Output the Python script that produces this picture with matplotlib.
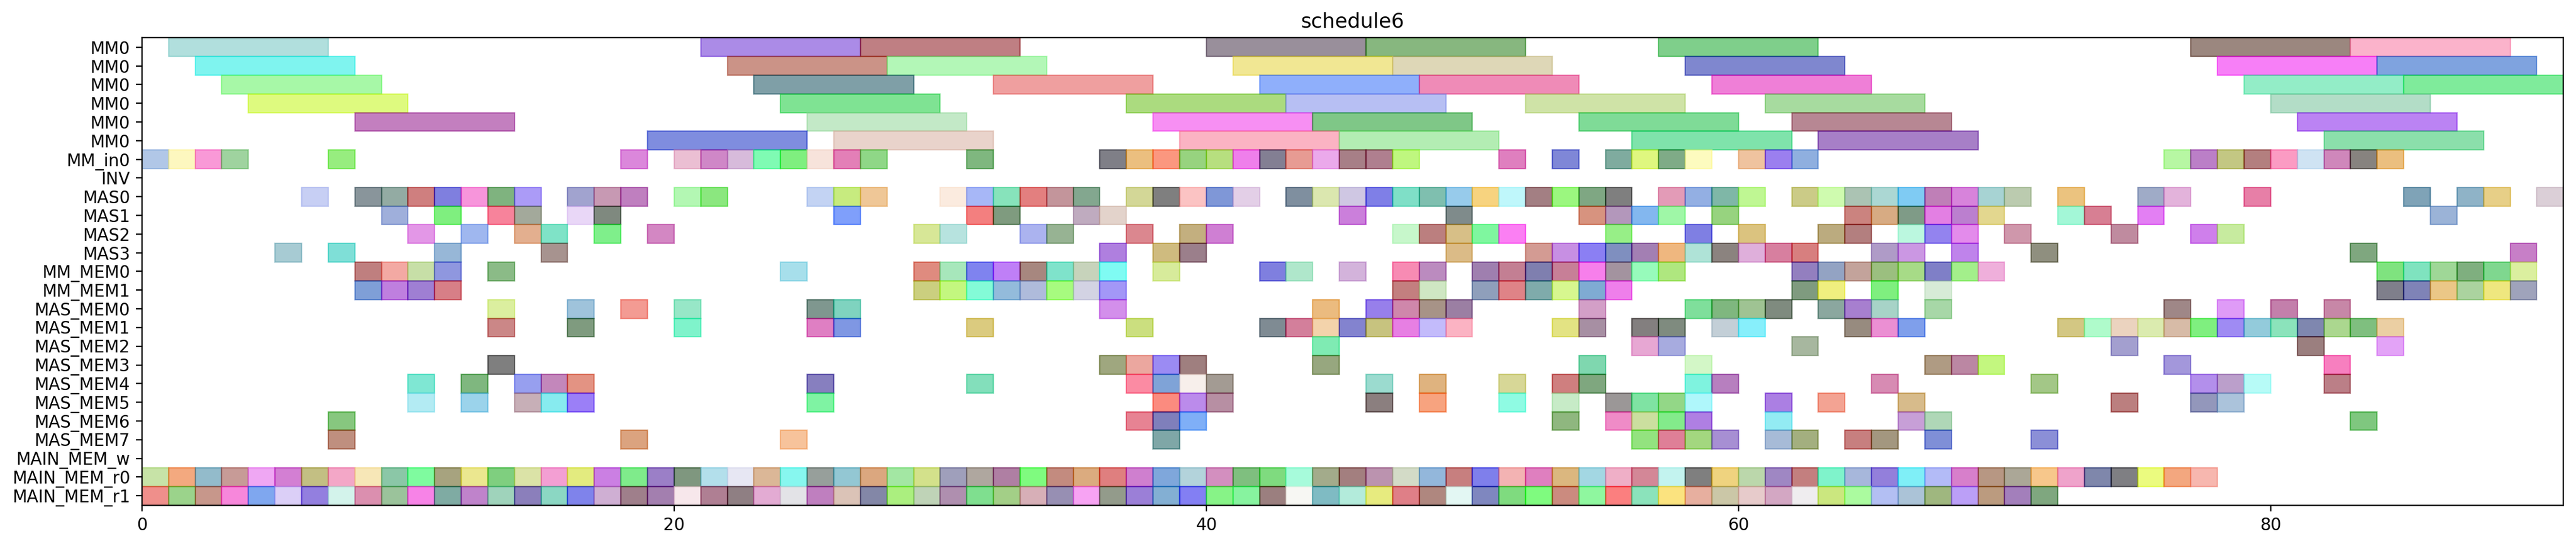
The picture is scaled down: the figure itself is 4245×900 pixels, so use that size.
import matplotlib
matplotlib.use('Agg')
import matplotlib.pyplot as plt
import numpy as np
from matplotlib.colors import to_rgb

ALPHA = 0.5

row_labels = ['MM0', 'MM0', 'MM0', 'MM0', 'MM0', 'MM0', 'MM_in0', 'INV',
              'MAS0', 'MAS1', 'MAS2', 'MAS3', 'MM_MEM0', 'MM_MEM1',
              'MAS_MEM0', 'MAS_MEM1', 'MAS_MEM2', 'MAS_MEM3', 'MAS_MEM4',
              'MAS_MEM5', 'MAS_MEM6', 'MAS_MEM7', 'MAIN_MEM_w',
              'MAIN_MEM_r0', 'MAIN_MEM_r1']

mm0_duration = 6
unit_duration = 1

# ---- MM0 rows (duration 6) ----
mm0_a_starts = [1, 21, 27, 40, 46, 57, 77, 83]
mm0_a_colors = ['#b2e0de', '#ac8ce8', '#c06884', '#9a909c', '#88b878', '#78d08c', '#9c8874', '#fcb4cc']
mm0_b_starts = [2, 22, 28, 41, 47, 58, 78, 84]
mm0_b_colors = ['#80f5f0', '#cc9488', '#b4f8b8', '#f2e894', '#dfd8b8', '#8088d0', '#f878f8', '#78a4e0']
mm0_c_starts = [3, 23, 32, 42, 48, 59, 79, 85]
mm0_c_colors = ['#a8f9a8', '#7aa0a8', '#f0a0a0', '#90b0fc', '#f08cb8', '#f06cd8', '#94eec8', '#78ec9c']
mm0_d_starts = [4, 24, 37, 43, 52, 61, 80]
mm0_d_colors = ['#dffb7b', '#70e494', '#acdc6c', '#b8c0f4', '#d0e4a8', '#a8dca0', '#b4dec8']
mm0_e_starts = [8, 25, 38, 44, 54, 62, 81]
mm0_e_colors = ['#c47bc0', '#c4eac8', '#f890f4', '#78c888', '#6cdc98', '#b88894', '#bc84f4']
mm0_f_starts = [19, 26, 39, 45, 56, 63, 82]
mm0_f_colors = ['#6a8ee0', '#ead4cc', '#fcb4c4', '#b4eeb4', '#68e4ac', '#a880c8', '#8ce0ac']

# ---- unit-duration rows ----
mm_in0_starts = [0, 1, 2, 3, 7, 18, 20, 21, 22, 23, 24, 25, 26, 27, 31, 36, 37, 38, 39, 40, 41, 42,
                 43, 44, 45, 46, 47, 51, 53, 55, 56, 57, 58, 60, 61, 62, 76, 77, 78, 79, 80, 81,
                 82, 83, 84]
mm_in0_colors = ['#b2c8e8', '#fef8c0', '#fa9ad8', '#a0d4a0', '#98ee80', '#dc88dc', '#ecc0d4',
                 '#d088c8', '#d8bcdc', '#78fcb4', '#78f070', '#f8e4dc', '#e47cb8', '#90d888',
                 '#74b870', '#806088', '#ecc070', '#fc9864', '#98d468', '#b8e068', '#f080ec',
                 '#847c94', '#e89c94', '#ecaaec', '#a87888', '#b07890', '#c0f870', '#e070c0',
                 '#7888d8', '#68aca0', '#e0f860', '#6cac88', '#fefcc0', '#f0c4a0', '#9c7cf0',
                 '#90b0e0', '#b8f8a4', '#bc80c8', '#c4c884', '#b47c7c', '#fc9cc4', '#d0e4f4',
                 '#d088bc', '#888468', '#ecc070']

inv_starts = []
inv_colors = []

mas0_starts = [6, 8, 9, 10, 11, 12, 13, 14, 16, 17, 18, 20, 21, 25, 26, 27, 30, 31, 32, 33, 34, 35,
               37, 38, 39, 40, 41, 43, 44, 45, 46, 47, 48, 49, 50, 51, 52, 53, 54, 55, 57, 58, 59,
               60, 62, 63, 64, 65, 66, 67, 68, 69, 70, 72, 75, 76, 79, 85, 87, 88, 90]
mas0_colors = ['#c8d0f5', '#8a969c', '#94aca4', '#d07480', '#6868e0', '#f896dc', '#7cb468',
               '#ac9cf8', '#a2a4d0', '#c89ab4', '#c07cc0', '#b4f8b4', '#8ce878', '#c4d4f4',
               '#c8ec70', '#f0c898', '#fcece0', '#a8b8f8', '#88e4bc', '#e47070', '#c4969c',
               '#84a890', '#d4d898', '#6c7c80', '#fcc4c4', '#6898d8', '#e4d0e8', '#7090a0',
               '#dce8b0', '#d0c8e4', '#7c70e8', '#7ce0c8', '#70c0b0', '#98ccec', '#f8d47c',
               '#c0f8fc', '#a47c84', '#9cf878', '#74a884', '#7c6878', '#e49cb8', '#94b0e4',
               '#78b8a8', '#c0f894', '#cccc88', '#d0fcb0', '#acc4b4', '#acd8d4', '#7cccf4',
               '#c080b8', '#d884dc', '#a8d4d4', '#bcccb0', '#ecc470', '#a0acc8', '#e4b4dc',
               '#e868a8', '#6aa4b8', '#90b4c8', '#e8d088', '#dcd0d8']

mas1_starts = [9, 11, 13, 14, 16, 17, 26, 31, 32, 35, 36, 45, 49, 54, 55, 56, 57, 59, 64, 65, 66,
               67, 68, 69, 72, 73, 75, 86]
mas1_colors = ['#a0b0dc', '#78f078', '#f8849c', '#a4aa9c', '#ead8f8', '#668a6c', '#78a0fc',
               '#f46880', '#6c9c78', '#c0acc0', '#e4d4cc', '#cc78dc', '#6c8c8c', '#d89468',
               '#b498bc', '#84b8f0', '#a0f8a8', '#98d470', '#cc8474', '#d8ac84', '#689c88',
               '#e47ce4', '#bc70d0', '#e4d890', '#a4f8d8', '#d88094', '#e474f4', '#9cb4d8']

mas2_starts = [10, 12, 14, 15, 17, 19, 29, 30, 33, 34, 37, 39, 40, 47, 48, 49, 50, 51, 55, 58, 60,
               63, 64, 66, 67, 68, 70, 74, 77, 78]
mas2_colors = ['#e498e8', '#a0b8f0', '#e4b090', '#68e4c8', '#78f08c', '#d488c4', '#d8e898',
               '#b8e4e0', '#acb4f0', '#98b494', '#dc8890', '#c4b06c', '#d078d4', '#c8f8cc',
               '#bc6c6c', '#d8c088', '#70f8a0', '#fc68f4', '#98f088', '#6c6ce4', '#dcc480',
               '#bcac74', '#b46c7c', '#bcf8e0', '#9484f0', '#e48cec', '#d098ac', '#c08ca0',
               '#d068ec', '#c8eca0']

mas3_starts = [5, 7, 11, 15, 36, 38, 39, 49, 52, 53, 54, 55, 56, 57, 58, 59, 60, 61, 62, 65, 66,
               68, 71, 83, 89]
mas3_colors = ['#a8ccd4', '#68e0d8', '#98b8d8', '#a89490', '#b068e0', '#d0bc80', '#9c7c8c',
               '#dcbc88', '#d49c94', '#c890e4', '#8c7cf4', '#7090c0', '#a47cb4', '#f0b880',
               '#b0e4d8', '#8c8478', '#e0b0dc', '#d870a0', '#d87070', '#b09cc8', '#cc98e4',
               '#c084ec', '#909078', '#68a880', '#c87cc8']

mm_mem0_starts = [8, 9, 10, 11, 13, 24, 29, 30, 31, 32, 33, 34, 35, 36, 38, 42, 43, 45, 47, 48, 50,
                  51, 52, 53, 54, 55, 56, 57, 62, 63, 64, 65, 66, 67, 68, 69, 84, 85, 86, 87, 88, 89]
mm_mem0_colors = ['#c07c68', '#f4aaa4', '#c8e0a8', '#9098e0', '#8cbc88', '#a8e0ec', '#e08c7c',
                  '#a8e8bc', '#7884f0', '#c068f8', '#a88880', '#78e4cc', '#c8d4bc', '#68fcf4',
                  '#d8ec9c', '#6c7ce0', '#b0e8cc', '#d4b4dc', '#f88cb4', '#bc8cc0', '#a070b0',
                  '#c47c94', '#7080b0', '#c87498', '#f880ec', '#a494a0', '#98fcbc', '#b0e870',
                  '#9480c0', '#94a4c4', '#c4a49c', '#9cc070', '#a8dc88', '#6c6cc8', '#a4f08c',
                  '#f0b0dc', '#68e478', '#6ce4c0', '#a0d898', '#80b078', '#80d890', '#dcf0a0']

mm_mem1_starts = [8, 9, 10, 11, 29, 30, 31, 32, 33, 34, 35, 36, 47, 48, 50, 51, 52, 53, 54, 55, 62,
                  63, 65, 67, 84, 85, 86, 87, 88, 89]
mm_mem1_colors = ['#78a0d8', '#c080e0', '#a078d4', '#d86888', '#ccd070', '#c4f878', '#84fcd8',
                  '#94bcdc', '#b0bcdc', '#a8fc70', '#d4d4e4', '#a498f8', '#c46870', '#d0e8c4',
                  '#90a0bc', '#e08488', '#78acac', '#d8f890', '#7cacd4', '#f080ec', '#7c9c68',
                  '#f0f080', '#80f080', '#d8ecd8', '#747c8c', '#6884b8', '#ecc888', '#acd4a0',
                  '#f0e880', '#a0a4bc']

mas_mem0_starts = [13, 16, 18, 20, 25, 26, 36, 44, 46, 47, 48, 49, 54, 58, 59, 60, 61, 63, 64, 65,
                   67, 76, 78, 80, 82]
mas_mem0_colors = ['#dcf0a0', '#a0c4dc', '#f49c94', '#98e8c8', '#789890', '#78d4c0', '#d490ec',
                   '#ecbc78', '#9880ec', '#d088ac', '#a89488', '#9c7ca4', '#d4a0c8', '#7ce09c',
                   '#80b870', '#a0c494', '#6c8c64', '#8ca8a0', '#a880d0', '#a8d4c8', '#a8d8a8',
                   '#a08888', '#e09cf8', '#c470ac', '#c888a8']

mas_mem1_starts = [13, 16, 20, 25, 26, 31, 37, 42, 43, 44, 45, 46, 47, 48, 49, 53, 54, 56, 57, 59,
                   60, 64, 65, 66, 72, 73, 74, 75, 76, 77, 78, 79, 80, 81, 82, 83, 84]
mas_mem1_colors = ['#cc8888', '#6c9c68', '#80f4cc', '#e080c4', '#6898e4', '#dccc70', '#cce07c',
                   '#708c94', '#d46c9c', '#f4d4ac', '#8484d0', '#c8c470', '#e87ce4', '#c4bcfc',
                   '#fcb4c4', '#e4e484', '#a890a4', '#847070', '#7c8c6c', '#c4d0d8', '#88f0fc',
                   '#988c7c', '#ec90d4', '#80a0ec', '#d4c884', '#b0fccc', '#ecd4c0', '#dcecb0',
                   '#d8bca8', '#70f080', '#a08cf4', '#94ccdc', '#8ce4bc', '#7088b0', '#acd890',
                   '#68c060', '#ecd0a4']

mas_mem2_starts = [44, 56, 57, 62, 74, 81, 84]
mas_mem2_colors = ['#78ecb4', '#e8a8d4', '#a8ace0', '#a8b8a0', '#a4a0d0', '#9c8070', '#e4a4f8']

mas_mem3_starts = [13, 36, 37, 38, 39, 44, 54, 58, 67, 68, 69, 76, 82]
mas_mem3_colors = ['#808080', '#a0a868', '#eca8a0', '#9c8cf4', '#a07474', '#98a870', '#80d8b0',
                   '#d4f8c8', '#b09c84', '#bc88a4', '#c4f878', '#a498dc', '#f880c0']

mas_mem4_starts = [10, 12, 14, 15, 16, 25, 31, 37, 38, 39, 40, 46, 48, 51, 53, 54, 58, 59, 65, 71,
                   77, 78, 79, 82]
mas_mem4_colors = ['#70e8d4', '#80b870', '#98a0f0', '#c488bc', '#e49484', '#8870c0', '#84e0bc',
                   '#fc8ca4', '#7ca4d8', '#f8f0ec', '#a49c94', '#9cdcd0', '#e0b47c', '#d8d898',
                   '#d06878', '#7ca87c', '#74f4e0', '#b878c0', '#d88cb4', '#a4c888', '#b490ec',
                   '#bca0cc', '#b8fcf8', '#bc6488']

mas_mem5_starts = [10, 12, 14, 15, 16, 25, 38, 39, 40, 46, 48, 51, 53, 55, 56, 57, 58, 61, 63, 66,
                   74, 77, 78]
mas_mem5_colors = ['#b4ecf4', '#9cd4ec', '#c8b0b8', '#88ecf0', '#9c7cf8', '#6cf4a4', '#fc8c6c',
                   '#bc8cec', '#b890a4', '#8c8078', '#f8a480', '#90fce4', '#c8ecc8', '#9c9898',
                   '#68e4a4', '#94d888', '#b0f8fc', '#ac70e4', '#f4a494', '#d8bc8c', '#bc6478',
                   '#9498bc', '#acc4dc']

mas_mem6_starts = [7, 37, 38, 39, 53, 55, 56, 57, 58, 61, 66, 67, 83]
mas_mem6_colors = ['#88c868', '#e88494', '#6c7cbc', '#74b0f8', '#90b874', '#f08cc8', '#cce0a0',
                   '#84ec8c', '#b080e4', '#94ecf4', '#c8a0d8', '#b0d8b8', '#80c870']

mas_mem7_starts = [7, 18, 24, 38, 56, 57, 58, 59, 61, 62, 64, 65, 67, 71]
mas_mem7_colors = ['#c09080', '#dca474', '#f8c49c', '#80a8a8', '#94e474', '#e08098', '#a4d880',
                   '#a890d4', '#a8bcd8', '#a4b07c', '#c87078', '#a49880', '#7490d8', '#8c90d8']

main_mem_w_starts = []
main_mem_w_colors = []

main_mem_r0_starts = [0, 1, 2, 3, 4, 5, 6, 7, 8, 9, 10, 11, 12, 13, 14, 15, 16, 17, 18, 19,
                      20, 21, 22, 23, 24, 25, 26, 27, 28, 29, 30, 31, 32, 33, 34, 35, 36, 37, 38,
                      39, 40, 41, 42, 43, 44, 45, 46, 47, 48, 49, 50, 51, 52, 53, 54, 55, 56, 57,
                      58, 59, 60, 61, 62, 63, 64, 65, 66, 67, 68, 69, 70, 71, 72, 73, 74, 75, 76, 77]
main_mem_r0_colors = ['#c8e4a8', '#f4aa80', '#94bccc', '#c89c98', '#f0a8f4', '#d478d4', '#c4c084',
                      '#f4a8c8', '#f8e8b8', '#8cc8a8', '#78fca0', '#a8a478', '#ece890', '#74d070',
                      '#dce4a8', '#f4a0d4', '#e4ec78', '#cc6ce4', '#78ec8c', '#9c7cc8',
                      '#6c9868', '#b4e0ec', '#e8e8f4', '#dcb898', '#88f8f0', '#98a09c', '#94c8d4',
                      '#dca868', '#a4e8a4', '#d4e28c', '#a0a0bc', '#b0a8a0', '#b078a4', '#80fc6c',
                      '#c48c80', '#dcac80', '#e07474', '#d078d0', '#7ca8dc', '#b4d4dc', '#d490c0',
                      '#70c080', '#80dc6c', '#a8fcdc',
                      '#a4ac8c', '#a47470', '#bc94b0', '#d4dcc8', '#94b8dc', '#c88080', '#6c80ec',
                      '#f4b4b4', '#e080c0', '#dcb878', '#a4d8e4', '#f0b0c8', '#d48898', '#c4f4f0',
                      '#6c7c68', '#f0d468', '#bcd8ac', '#a088c4', '#c48070', '#70f4cc', '#a8b8dc',
                      '#9470dc', '#70f0f8', '#b4bcf8',
                      '#d878cc', '#b89884', '#aca898', '#f8c88c', '#f0a4cc', '#6888ac', '#7c6c84',
                      '#ecfc70', '#f4a870', '#f8b8b0']

main_mem_r1_starts = [0, 1, 2, 3, 4, 5, 6, 7, 8, 9, 10, 11, 12, 13, 14, 15, 16, 17, 18, 19,
                      20, 21, 22, 23, 24, 25, 26, 27, 28, 29, 30, 31, 32, 33, 34, 35, 36, 37, 38,
                      39, 40, 41, 42, 43, 44, 45, 46, 47, 48, 49, 50, 51, 52, 53, 54, 55, 56, 57,
                      58, 59, 60, 61, 62, 63, 64, 65, 66, 67, 68, 69, 70, 71]
main_mem_r1_colors = ['#f0908c', '#9cd48c', '#c8988c', '#f888dc', '#70a8f0', '#dcd0f8', '#9480e0',
                      '#d4f4ec', '#dc90b0', '#9cc49c', '#f884e8', '#68aca4', '#c084cc', '#a0d4bc',
                      '#8c74bc', '#8cd8c4', '#7c84ec', '#d0b0d4', '#a07c8c', '#a470b0',
                      '#f8e8ec', '#b07c94', '#907c84', '#e4acd4', '#e4e4e8', '#c070c0', '#dcc4b8',
                      '#8488a8', '#acf07c', '#c0d4b8', '#b090b0', '#80e090', '#a4d088', '#d8b0b8',
                      '#9890b4', '#f8a4f4', '#949c8c', '#9c80d8', '#84b0d4', '#8478f4', '#88f488',
                      '#88f4a0', '#9c6c70', '#f8f8f4',
                      '#70bcc4', '#b4ecdc', '#e8ec78', '#e06888', '#b08868', '#e4f8f4', '#7088c0',
                      '#68dc70', '#80fc70', '#cc8c6c', '#90f8a0', '#fc6870', '#8ce4bc', '#fce468',
                      '#e8b0a0', '#ccc8a8', '#e8cccc', '#d4a8c4', '#f0eef0', '#cce870', '#acfca0',
                      '#b4c0f4', '#acc4d8', '#a0b878',
                      '#bca0f8', '#bc9c70', '#a47cbc', '#80a864']

rows = [
    (mm0_a_starts, mm0_a_colors, mm0_duration),
    (mm0_b_starts, mm0_b_colors, mm0_duration),
    (mm0_c_starts, mm0_c_colors, mm0_duration),
    (mm0_d_starts, mm0_d_colors, mm0_duration),
    (mm0_e_starts, mm0_e_colors, mm0_duration),
    (mm0_f_starts, mm0_f_colors, mm0_duration),
    (mm_in0_starts, mm_in0_colors, unit_duration),
    (inv_starts, inv_colors, unit_duration),
    (mas0_starts, mas0_colors, unit_duration),
    (mas1_starts, mas1_colors, unit_duration),
    (mas2_starts, mas2_colors, unit_duration),
    (mas3_starts, mas3_colors, unit_duration),
    (mm_mem0_starts, mm_mem0_colors, unit_duration),
    (mm_mem1_starts, mm_mem1_colors, unit_duration),
    (mas_mem0_starts, mas_mem0_colors, unit_duration),
    (mas_mem1_starts, mas_mem1_colors, unit_duration),
    (mas_mem2_starts, mas_mem2_colors, unit_duration),
    (mas_mem3_starts, mas_mem3_colors, unit_duration),
    (mas_mem4_starts, mas_mem4_colors, unit_duration),
    (mas_mem5_starts, mas_mem5_colors, unit_duration),
    (mas_mem6_starts, mas_mem6_colors, unit_duration),
    (mas_mem7_starts, mas_mem7_colors, unit_duration),
    (main_mem_w_starts, main_mem_w_colors, unit_duration),
    (main_mem_r0_starts, main_mem_r0_colors, unit_duration),
    (main_mem_r1_starts, main_mem_r1_colors, unit_duration),
]


def base_color(hex_disp):
    """Colour whose ALPHA blend over white gives the observed tint."""
    rgb = np.array(to_rgb(hex_disp))
    return tuple(np.clip((rgb - (1 - ALPHA)) / ALPHA, 0, 1))


plt.rcParams['font.family'] = ['DejaVu Sans']
fig = plt.figure(figsize=(21.225, 4.5), dpi=200)
ax = fig.add_axes([0.0551, 0.0748, 0.9400, 0.8560])

n_rows = len(rows)
x_max = 0
for i, (starts, cols, dur) in enumerate(rows):
    if not starts:
        continue
    y = n_rows - 1 - i
    bases = [base_color(c) for c in cols]
    ax.barh([y] * len(starts), [dur] * len(starts), left=starts, height=1.0,
            color=bases, edgecolor=bases, alpha=ALPHA, linewidth=0.8)
    x_max = max(x_max, max(starts) + dur)

ax.set_xlim(0, x_max)
ax.set_ylim(-0.5, n_rows - 0.5)
ax.set_yticks(range(n_rows))
ax.set_yticklabels(row_labels[::-1])
ax.set_title('schedule6')

fig.savefig('out.png', dpi=200)
